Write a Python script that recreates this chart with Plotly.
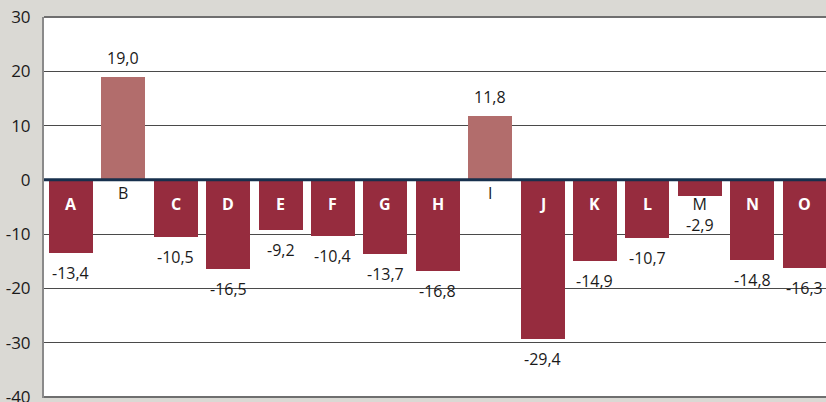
import plotly.graph_objects as go

categories = ["A", "B", "C", "D", "E", "F", "G", "H", "I", "J", "K", "L", "M", "N", "O"]
values = [-13.4, 19.0, -10.5, -16.5, -9.2, -10.4, -13.7, -16.8, 11.8, -29.4, -14.9, -10.7, -2.9, -14.8, -16.3]
tick_vals = [-40, -30, -20, -10, 0, 10, 20, 30]
tick_text = ["-40", "-30", "-20", "-10", "0", "10", "20", "30"]

NEG = "#962c3e"
POS = "#b26d6c"
FONT = "Open Sans, Noto Sans, sans-serif"
TXT = "#1a1a1a"

colors = [POS if v > 0 else NEG for v in values]
xs = list(range(len(categories)))

fig = go.Figure()
fig.add_trace(go.Bar(
    x=xs, y=values, width=0.84, marker=dict(color=colors, line=dict(width=0)),
    hoverinfo="skip", showlegend=False,
))

ann = []
for i, (c, v) in enumerate(zip(categories, values)):
    fmt = f"{v:.1f}".replace(".", ",")
    small = (v < 0 and v > -5)
    if v > 0:
        ann.append(dict(x=i, y=0, text=c, showarrow=False, yshift=-13,
                        font=dict(family=FONT, size=16, color=TXT)))
        ann.append(dict(x=i, y=v, text=fmt, showarrow=False, yshift=19,
                        font=dict(family=FONT, size=16, color=TXT)))
    elif small:
        ann.append(dict(x=i, y=0, text=c + "<br>" + fmt, showarrow=False, yshift=-35,
                        font=dict(family=FONT, size=16, color=TXT)))
    else:
        ann.append(dict(x=i, y=0, text="<b>" + c + "</b>", showarrow=False, yshift=-24,
                        font=dict(family=FONT, size=16, color="white")))
        ann.append(dict(x=i, y=v, text=fmt, showarrow=False, yshift=-20,
                        font=dict(family=FONT, size=16, color=TXT)))

fig.update_layout(
    width=826, height=402,
    margin=dict(l=44, r=0, t=17, b=4, autoexpand=False),
    paper_bgcolor="#dad9d4",
    plot_bgcolor="white",
    annotations=ann,
    bargap=0,
    shapes=[
        dict(type="line", xref="paper", yref="y", x0=0, x1=1, y0=0, y1=0,
             line=dict(color="#17304d", width=3), layer="above"),
        dict(type="line", xref="paper", yref="paper", x0=0, x1=1, y0=1, y1=1,
             line=dict(color="#6f6f6f", width=2), layer="above"),
        dict(type="line", xref="paper", yref="y", x0=0, x1=1, y0=-40, y1=-40,
             line=dict(color="#6f6f6f", width=2), layer="above"),
    ],
)
fig.update_xaxes(range=[-0.515, 14.41], showticklabels=False, showgrid=False,
                 zeroline=False, showline=False, fixedrange=True, automargin=False)
fig.update_yaxes(range=[-40.2, 30], tickvals=tick_vals, ticktext=tick_text,
                 tickfont=dict(family=FONT, size=17, color=TXT),
                 showgrid=True, gridcolor="#4a4a4a", gridwidth=1,
                 zeroline=False, showline=True, linecolor="#8a8a8a", linewidth=2,
                 ticks="", ticklabelstandoff=8, ticklabeloverflow="allow",
                 automargin=False)

fig.write_html("out.html")
